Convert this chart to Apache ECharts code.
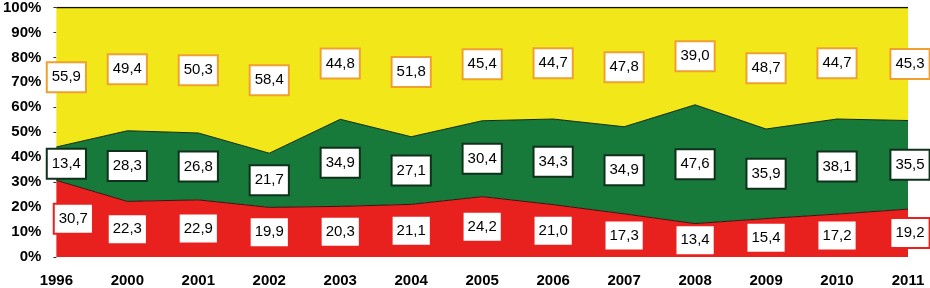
<!DOCTYPE html>
<html><head><meta charset="utf-8">
<script src="https://cdn.jsdelivr.net/npm/echarts@6/dist/echarts.min.js"></script>
<style>html,body{margin:0;padding:0;background:#fff}#c{width:930px;height:288px}</style>
</head><body><div id="c"></div>
<script>
const years = ['1996','2000','2001','2002','2003','2004','2005','2006','2007','2008','2009','2010','2011'];
const redVals = [30.7,22.3,22.9,19.9,20.3,21.1,24.2,21.0,17.3,13.4,15.4,17.2,19.2];
const greenVals = [13.4,28.3,26.8,21.7,34.9,27.1,30.4,34.3,34.9,47.6,35.9,38.1,35.5];
const yellowVals = [55.9,49.4,50.3,58.4,44.8,51.8,45.4,44.7,47.8,39.0,48.7,44.7,45.3];
const yTicks = [0,10,20,30,40,50,60,70,80,90,100];

const FONT = '"Liberation Sans", Arial, sans-serif';
const cols = {red:'#e8211f', green:'#177a3a', yellow:'#f2e819'};
const borders = {red:'#e8211f', green:'#10301c', yellow:'#f0a030'};
const firstShift = {red:17, green:10, yellow:10};

function area(name, vals, key, lineColor, lw){
  return {name, type:'line', stack:'a', data:vals, symbol:'none', z:2,
    lineStyle:{color:lineColor, width:lw}, areaStyle:{color:cols[key], opacity:1}};
}
function labels(name, vals, key){
  return {name:name+'L', type:'bar', stack:'b', barWidth:2, z:5,
    itemStyle:{color:'rgba(0,0,0,0)'},
    data: vals.map((v,i)=>({value:v, label: i===0?{offset:[firstShift[key],0]}:(i===vals.length-1?{offset:[2,0]}:{})})),
    label:{show:true, position:'inside', color:'#000', fontFamily:FONT, fontSize:15,
      backgroundColor:'#fff', borderColor:borders[key], borderWidth:2, padding:[7,4,6,4],
      formatter:p=>p.value.toFixed(1).replace('.',',')}};
}

const chart = echarts.init(document.getElementById('c'), null, {renderer:'canvas'});
chart.setOption({
  animation:false,
  grid:{left:52,right:22,top:5,bottom:29,containLabel:false},
  xAxis:{type:'category', data:years, boundaryGap:false,
    axisLine:{show:false}, axisTick:{show:false},
    axisLabel:{fontFamily:FONT, fontWeight:'bold', fontSize:15, color:'#000', margin:16}},
  yAxis:{type:'value', min:0, max:100, interval:10,
    axisLine:{show:false}, axisTick:{show:true, length:3, lineStyle:{color:'#333'}}, splitLine:{show:false},
    axisLabel:{fontFamily:FONT, fontWeight:'bold', fontSize:15, color:'#000', margin:15,
      formatter:v=>yTicks.includes(v)?v+'%':''}},
  series:[
    area('red', redVals, 'red', '#3a1010', 1),
    area('green', greenVals, 'green', '#0c2a14', 1),
    area('yellow', yellowVals, 'yellow', '#111', 1.5),
    labels('red', redVals, 'red'),
    labels('green', greenVals, 'green'),
    labels('yellow', yellowVals, 'yellow')
  ]
});
</script></body></html>
